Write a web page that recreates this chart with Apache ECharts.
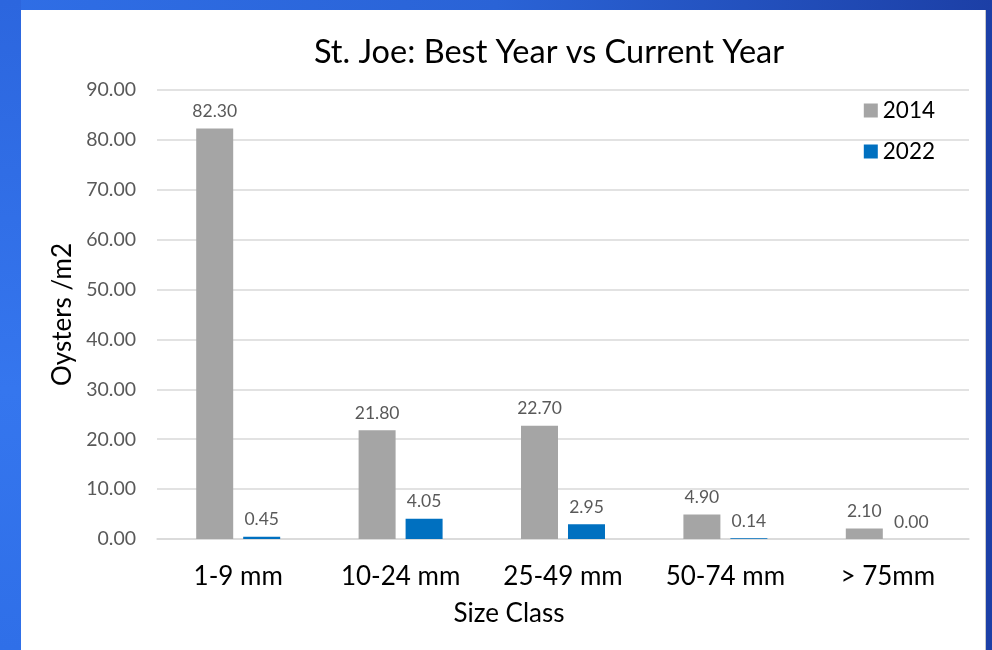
<!DOCTYPE html>
<html>
<head>
<meta charset="utf-8">
<script src="https://cdn.jsdelivr.net/npm/echarts@6/dist/echarts.min.js"></script>
<style>
  html, body { margin: 0; padding: 0; width: 992px; height: 650px; overflow: hidden; }
  body { background: linear-gradient(90deg, #2f6ee6 0%, #2a63d6 50%, #1c3fa6 100%); position: relative; }
  #leftband { position: absolute; left: 0; top: 0; width: 21px; height: 650px; background: linear-gradient(180deg, #2c66de 0%, #3576ee 60%, #2f6fe8 100%); }
  #panel { position: absolute; left: 21px; top: 10px; width: 964px; height: 640px; background: #ffffff; border-right: 1px solid #c8c8c8; }
  #chart { position: absolute; left: 0; top: 0; width: 992px; height: 650px; }
</style>
</head>
<body>
<div id="leftband"></div>
<div id="panel"></div>
<div id="chart"></div>
<script>
const categories = ['1-9 mm', '10-24 mm', '25-49 mm', '50-74 mm', '> 75mm'];
const series2014 = [82.30, 21.80, 22.70, 4.90, 2.10];
const series2022 = [0.45, 4.05, 2.95, 0.14, 0.00];
const yTicks = { min: 0, max: 90, interval: 10 };

const FONT = 'Lato';
const chart = echarts.init(document.getElementById('chart'), null, { renderer: 'canvas' });

const labelStyle = {
  show: true,
  position: 'top',
  distance: 8,
  fontFamily: FONT,
  fontSize: 17.5,
  color: '#595959',
  formatter: p => p.value.toFixed(2)
};

chart.setOption({
  backgroundColor: 'transparent',
  textStyle: { fontFamily: FONT },
  title: {
    text: 'St. Joe: Best Year vs Current Year',
    left: 544,
    top: 31,
    textAlign: 'center',
    textStyle: { fontFamily: FONT, fontSize: 32.5, fontWeight: 'normal', color: '#000000' }
  },
  legend: {
    orient: 'vertical',
    right: 52,
    top: 94,
    itemWidth: 14,
    itemHeight: 14,
    itemGap: 18,
    icon: 'rect',
    textStyle: { fontFamily: FONT, fontSize: 22.5, color: '#000000' },
    data: ['2014', '2022']
  },
  grid: { left: 157, right: 23, top: 90, bottom: 111, containLabel: false },
  xAxis: {
    type: 'category',
    data: categories,
    name: 'Size Class',
    nameLocation: 'middle',
    nameGap: 62,
    nameTextStyle: { fontFamily: FONT, fontSize: 26, color: '#000000', padding: [0, 108, 0, 0] },
    axisLine: { show: true, lineStyle: { color: '#d9d9d9', width: 1.5 } },
    axisTick: { show: false },
    axisLabel: { fontFamily: FONT, fontSize: 26, color: '#000000', margin: 25 }
  },
  yAxis: {
    type: 'value',
    min: yTicks.min,
    max: yTicks.max,
    interval: yTicks.interval,
    name: 'Oysters /m2',
    nameLocation: 'middle',
    nameGap: 81,
    nameRotate: 90,
    nameTextStyle: { fontFamily: FONT, fontSize: 26, color: '#000000' },
    axisLine: { show: false },
    axisTick: { show: false },
    axisLabel: { fontFamily: FONT, fontSize: 19.5, color: '#595959', margin: 21, formatter: v => v.toFixed(2) },
    splitLine: { show: true, lineStyle: { color: '#d9d9d9', width: 1.5 } }
  },
  series: [
    {
      name: '2014',
      type: 'bar',
      data: series2014,
      barWidth: 37,
      barGap: '27%',
      itemStyle: { color: '#a5a5a5' },
      label: labelStyle
    },
    {
      name: '2022',
      type: 'bar',
      data: series2022,
      barWidth: 37,
      itemStyle: { color: '#0070c0' },
      label: labelStyle
    }
  ]
});
</script>
</body>
</html>
